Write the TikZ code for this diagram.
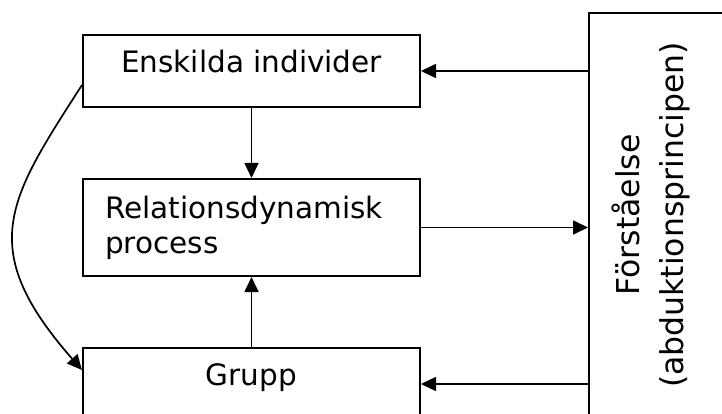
\documentclass[tikz,border=0pt]{standalone}
\usepackage{fontspec}
\setmainfont{DejaVu Sans}
\usetikzlibrary{arrows.meta}
\begin{document}
\begin{tikzpicture}[x=1pt,y=-1pt,
    ruta/.style={draw, line width=2pt, minimum width=337pt, inner sep=0pt,
      font=\fontsize{29.5}{35}\selectfont},
    pil/.style={-{Triangle[length=15pt,width=14pt]}, line width=1.7pt}]
  \useasboundingbox (0,0) rectangle (722,414);
  \clip (0,0) rectangle (722,414);

  % Rutor till vänster
  \node[ruta, minimum height=72pt, text height=0.72em, text depth=0.36em]
    (ind) at (251.5,71) {Enskilda individer};
  \node[ruta, minimum height=97pt, align=left, text width=293pt]
    (rel) at (251.5,227.5) {Relationsdynamisk\\process};
  \node[ruta, minimum height=72pt, text height=0.72em, text depth=0.36em]
    (grupp) at (251.5,384) {Grupp};

  % Ruta till höger
  \node[ruta, minimum width=160pt, minimum height=420pt, anchor=north west]
    (fors) at (588,12) {};
  \node[rotate=90, align=center, font=\fontsize{31.5}{44}\selectfont]
    (forstext) at (651,215) {Förståelse\\(abduktionsprincipen)};

  % Pilar
  \draw[pil] (ind) -- (rel);
  \draw[pil] (grupp) -- (rel);
  \draw[pil] (fors.west |- ind.east) -- (ind.east);
  \draw[pil] (rel.east) -- (fors.west |- rel.east);
  \draw[pil] (fors.west |- grupp.east) -- (grupp.east);
  \draw[pil] ([yshift=-14pt]ind.west) .. controls (8,200) and (-25,248)
    .. ([yshift=14pt]grupp.west);
\end{tikzpicture}
\end{document}
